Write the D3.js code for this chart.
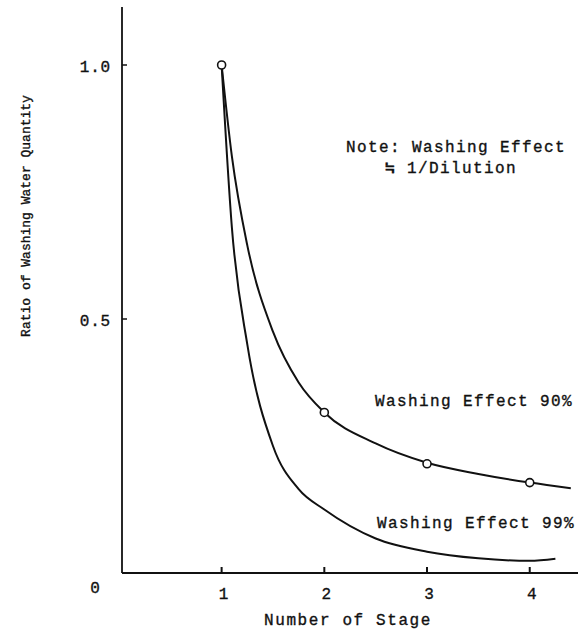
<!DOCTYPE html>
<html>
<head>
<meta charset="utf-8">
<script src="https://cdn.jsdelivr.net/npm/d3@7"></script>
<style>
  body { margin: 0; background: #fff; }
  text { font-family: "Liberation Mono", "DejaVu Sans Mono", monospace; fill: #111; stroke: #111; stroke-width: 0.35px; }
</style>
</head>
<body>
<svg id="chart" width="578" height="632"></svg>
<script>
// data
var stages90 = [1, 1.1, 1.25, 1.5, 1.75, 2, 2.5, 3, 3.5, 4, 4.4];
var ratio90  = [1.0, 0.82, 0.645, 0.475, 0.375, 0.316, 0.255, 0.217, 0.195, 0.178, 0.167];
var stages99 = [1, 1.1, 1.25, 1.5, 1.75, 2, 2.5, 3, 3.5, 4, 4.25];
var ratio99  = [1.0, 0.68, 0.45, 0.25, 0.165, 0.125, 0.068, 0.042, 0.029, 0.024, 0.028];
var markStages = [1, 2, 3, 4];
var markRatio  = [1.0, 0.316, 0.215, 0.178];
var xTicks = [1, 2, 3, 4];
var yTicks = [0.5, 1.0];

var svg = d3.select("#chart");

// scales
var x = d3.scaleLinear().domain([0.03, 4.47]).range([122, 578]);
var y = d3.scaleLinear().domain([0, 1]).range([573, 65]);

// axes lines
svg.append("line")
  .attr("x1", x(0.03)).attr("x2", x(0.03))
  .attr("y1", 7).attr("y2", y(0))
  .style("stroke", "#111").style("stroke-width", 1.8);
svg.append("line")
  .attr("x1", x(0.03)).attr("x2", 578)
  .attr("y1", y(0)).attr("y2", y(0))
  .style("stroke", "#111").style("stroke-width", 1.8);

// y ticks (pointing inside)
svg.selectAll(".ytick")
  .data(yTicks)
  .enter().append("line")
  .attr("class", "ytick")
  .attr("x1", x(0.03)).attr("x2", x(0.03) + 5)
  .attr("y1", function(d) { return y(d); })
  .attr("y2", function(d) { return y(d); })
  .style("stroke", "#111").style("stroke-width", 1.5);

svg.selectAll(".ylab")
  .data(yTicks)
  .enter().append("text")
  .attr("class", "ylab")
  .attr("x", 111)
  .attr("y", function(d) { return y(d) + 7; })
  .attr("text-anchor", "end")
  .style("font-size", "16px")
  .style("letter-spacing", "0.8px")
  .text(function(d) { return d3.format(".1f")(d); });

// x ticks (pointing up)
svg.selectAll(".xtick")
  .data(xTicks)
  .enter().append("line")
  .attr("class", "xtick")
  .attr("x1", function(d) { return x(d); })
  .attr("x2", function(d) { return x(d); })
  .attr("y1", y(0)).attr("y2", y(0) - 6)
  .style("stroke", "#111").style("stroke-width", 2);

svg.selectAll(".xlab")
  .data(xTicks)
  .enter().append("text")
  .attr("class", "xlab")
  .attr("x", function(d) { return x(d) + 2; })
  .attr("y", 599)
  .attr("text-anchor", "middle")
  .style("font-size", "16px")
  .text(function(d) { return d; });

// origin label
svg.append("text")
  .attr("x", 95).attr("y", 593)
  .attr("text-anchor", "middle")
  .style("font-size", "16px")
  .text("0");

// axis titles
svg.append("text")
  .attr("x", 348).attr("y", 625)
  .attr("text-anchor", "middle")
  .style("font-size", "16px")
  .style("letter-spacing", "1.6px")
  .text("Number of Stage");

svg.append("text")
  .attr("transform", "translate(30,216) rotate(-90)")
  .attr("text-anchor", "middle")
  .style("font-size", "13px")
  .text("Ratio of Washing Water Quantity");

// curves
var line = d3.line()
  .x(function(d) { return x(d[0]); })
  .y(function(d) { return y(d[1]); })
  .curve(d3.curveMonotoneX);

svg.append("path")
  .attr("d", line(d3.zip(stages90, ratio90)))
  .style("fill", "none").style("stroke", "#111").style("stroke-width", 2);

svg.append("path")
  .attr("d", line(d3.zip(stages99, ratio99)))
  .style("fill", "none").style("stroke", "#111").style("stroke-width", 2);

// open circle markers
svg.selectAll(".mark")
  .data(d3.zip(markStages, markRatio))
  .enter().append("circle")
  .attr("class", "mark")
  .attr("cx", function(d) { return x(d[0]); })
  .attr("cy", function(d) { return y(d[1]); })
  .attr("r", 4)
  .style("fill", "#fff").style("stroke", "#111").style("stroke-width", 1.6);

// annotations
var notes = [
  { t: "Note: Washing Effect", x: 346, y: 152 },
  { t: "\u2252 1/Dilution", x: 385, y: 173 },
  { t: "Washing Effect 90%", x: 375, y: 406 },
  { t: "Washing Effect 99%", x: 377, y: 528 }
];
svg.selectAll(".note")
  .data(notes)
  .enter().append("text")
  .attr("class", "note")
  .attr("x", function(d) { return d.x; })
  .attr("y", function(d) { return d.y; })
  .style("font-size", "16px")
  .style("letter-spacing", "1.4px")
  .text(function(d) { return d.t; });
</script>
</body>
</html>
